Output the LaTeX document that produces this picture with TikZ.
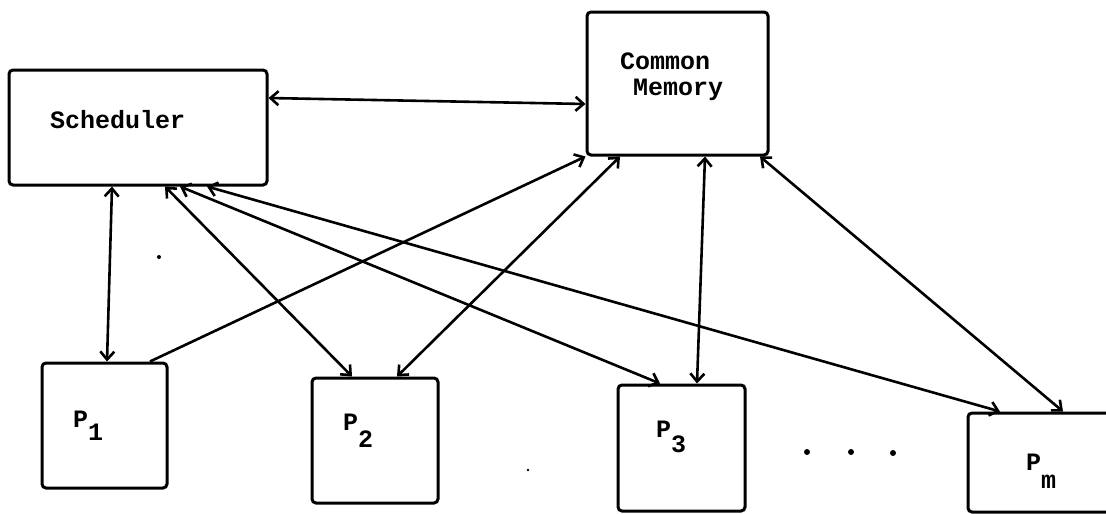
\documentclass[tikz,border=0pt]{standalone}
\usepackage{fontspec}
\setmonofont{Liberation Mono}
\usetikzlibrary{arrows.meta,calc}

\tikzset{
  box/.style={draw, line width=3pt, rounded corners=4pt, inner sep=0pt},
  lab/.style={inner sep=0pt, font=\fontsize{25}{27}\selectfont\ttfamily\bfseries},
  link/.style={line width=2.6pt, {Straight Barb[length=8pt,width=14pt]}-{Straight Barb[length=8pt,width=14pt]}},
  onelink/.style={line width=2.6pt, -{Straight Barb[length=8pt,width=14pt]}},
  speck/.style={fill=black, draw=none}
}

\begin{document}
\begin{tikzpicture}[x=1pt, y=-1pt]
  \useasboundingbox (0,0) rectangle (1106,514);
  \fill[white] (0,0) rectangle (1106,514);
  \clip (0,0) rectangle (1106,514);

  % units and memory
  \node[box, minimum width=258pt, minimum height=115pt] (sch) at (138,127.5) {};
  \node[box, minimum width=181pt, minimum height=143pt] (cm) at (677.5,83.5) {};

  % processors
  \node[box, minimum width=125pt, minimum height=125pt] (p1) at (104.5,425.5) {};
  \node[box, minimum width=126pt, minimum height=125pt] (p2) at (375,440.5) {};
  \node[box, minimum width=127pt, minimum height=126pt] (p3) at (681.5,448) {};
  \node[box, minimum width=170pt, minimum height=99pt] (pm) at (1053,462.5) {};

  % labels
  \node[lab, anchor=base west] (tsch) at (50,128) {Scheduler};
  \node[lab, anchor=base west] (tcm1) at (620,69) {Common};
  \node[lab, anchor=base west] (tcm2) at (633,95) {Memory};
  \node[lab, anchor=base west] (tp1) at (73,427) {P\raisebox{-13pt}{1}};
  \node[lab, anchor=base west] (tp2) at (343,430) {P\raisebox{-17pt}{2}};
  \node[lab, anchor=base west] (tp3) at (656,437) {P\raisebox{-15pt}{3}};
  \node[lab, anchor=base west] (tpm) at (1026,470) {P\raisebox{-18pt}{m}};

  % scheduler <-> common memory
  \draw[link] ($(sch.east)+(0,-29.5)$) -- ($(cm.west)+(0,20.5)$);

  % scheduler <-> processors
  \draw[link] ($(sch.south)+(-26,0)$) -- ($(p1.north)+(2.5,0)$);
  \draw[link] ($(sch.south)+(27,0)$) -- ($(p2.north)+(-23,0)$);
  \draw[link] ($(sch.south)+(42,0)$) -- ($(p3.north)+(-21.5,0)$);
  \draw[link] ($(sch.south)+(69,0)$) -- ($(pm.north)+(-53,0)$);

  % processors <-> common memory
  \draw[onelink] ($(p1.north)+(45.5,0)$) -- (cm.south west);
  \draw[link] ($(cm.south)+(-57.5,0)$) -- ($(p2.north)+(22,0)$);
  \draw[link] ($(cm.south)+(27.5,0)$) -- ($(p3.north)+(15.5,0)$);
  \draw[link] ($(cm.south)+(82.5,0)$) -- ($(pm.north)+(10,0)$);

  % ellipsis between the processors
  \fill (807,452) circle (3);
  \fill (851,452) circle (3);
  \fill (893,453) circle (3);

  % stray marks
  \fill[speck] (159,257) circle (2);
  \fill[speck] (528,470) circle (1.3);
\end{tikzpicture}
\end{document}
